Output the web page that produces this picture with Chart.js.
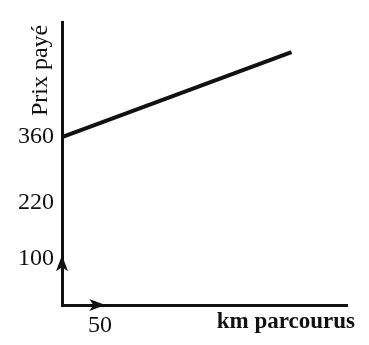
<!DOCTYPE html>
<html>
<head>
<meta charset="utf-8">
<script src="https://cdn.jsdelivr.net/npm/chart.js@4.4.1/dist/chart.umd.min.js"></script>
<style>
  html, body { margin: 0; padding: 0; background: #fff; }
  #wrap { width: 369px; height: 345px; position: relative; }
</style>
</head>
<body>
<div id="wrap"><canvas id="chart"></canvas></div>
<script>
// data
var kmValues = [0, 302];
var prixValues = [360, 542];
var yTickValues = [100, 220, 360];
var xTickValues = [50];
var yTitle = 'Prix payé';
var xTitle = 'km parcourus';

var ink = '#111';
var serif = "'Liberation Serif', 'DejaVu Serif', serif";

// arrows drawn on the axes + axis titles placed like the textbook figure
var axisExtras = {
    id: 'axisExtras',
    afterDraw: function(chart) {
        var ctx = chart.ctx;
        var area = chart.chartArea;
        var xs = chart.scales.x, ys = chart.scales.y;
        ctx.save();
        ctx.fillStyle = ink;

        // y arrow (pointing up)
        var ty = ys.getPixelForValue(100) - 3;
        var ax = area.left;
        ctx.beginPath();
        ctx.moveTo(ax, ty);
        ctx.lineTo(ax - 6, ty + 16);
        ctx.lineTo(ax, ty + 12);
        ctx.lineTo(ax + 6, ty + 16);
        ctx.closePath();
        ctx.fill();

        // x arrow (pointing right)
        var tx = xs.getPixelForValue(57);
        var ay = area.bottom;
        ctx.beginPath();
        ctx.moveTo(tx, ay);
        ctx.lineTo(tx - 16, ay - 6);
        ctx.lineTo(tx - 12, ay);
        ctx.lineTo(tx - 16, ay + 6);
        ctx.closePath();
        ctx.fill();

        // y title, rotated
        ctx.font = '24px ' + serif;
        ctx.textAlign = 'center';
        ctx.textBaseline = 'middle';
        ctx.translate(area.left - 21, area.top + 48);
        ctx.rotate(-Math.PI / 2);
        ctx.fillText(yTitle, 0, 0);
        ctx.restore();

        // x title
        ctx.save();
        ctx.fillStyle = ink;
        ctx.font = 'bold 23px ' + serif;
        ctx.textAlign = 'right';
        ctx.textBaseline = 'middle';
        ctx.fillText(xTitle, area.right + 8, area.bottom + 17);
        ctx.restore();
    }
};

var ctx = document.getElementById('chart').getContext('2d');
new Chart(ctx, {
    type: 'line',
    data: {
        datasets: [{
            data: kmValues.map(function(k, i) { return {x: k, y: prixValues[i]}; }),
            borderColor: ink,
            borderWidth: 4,
            pointRadius: 0,
            tension: 0,
            fill: false
        }]
    },
    options: {
        responsive: true,
        maintainAspectRatio: false,
        animation: false,
        layout: { padding: { top: 22, right: 22, left: 0, bottom: 0 } },
        plugins: { legend: { display: false }, tooltip: { enabled: false } },
        scales: {
            x: {
                type: 'linear',
                min: 0,
                max: 375,
                grid: { display: false, drawTicks: false },
                border: { display: true, color: ink, width: 3 },
                afterBuildTicks: function(scale) {
                    scale.ticks = xTickValues.map(function(v) { return {value: v}; });
                },
                afterFit: function(scale) { scale.height = 40; },
                ticks: {
                    color: ink,
                    padding: 6,
                    maxRotation: 0,
                    font: { family: serif, size: 24 }
                }
            },
            y: {
                type: 'linear',
                min: 0,
                max: 606,
                grid: { display: false, drawTicks: false },
                border: { display: true, color: ink, width: 3 },
                afterBuildTicks: function(scale) {
                    scale.ticks = yTickValues.map(function(v) { return {value: v}; });
                },
                afterFit: function(scale) { scale.width = 62; },
                ticks: {
                    color: ink,
                    padding: 8,
                    font: { family: serif, size: 24 }
                }
            }
        }
    },
    plugins: [axisExtras]
});
</script>
</body>
</html>
